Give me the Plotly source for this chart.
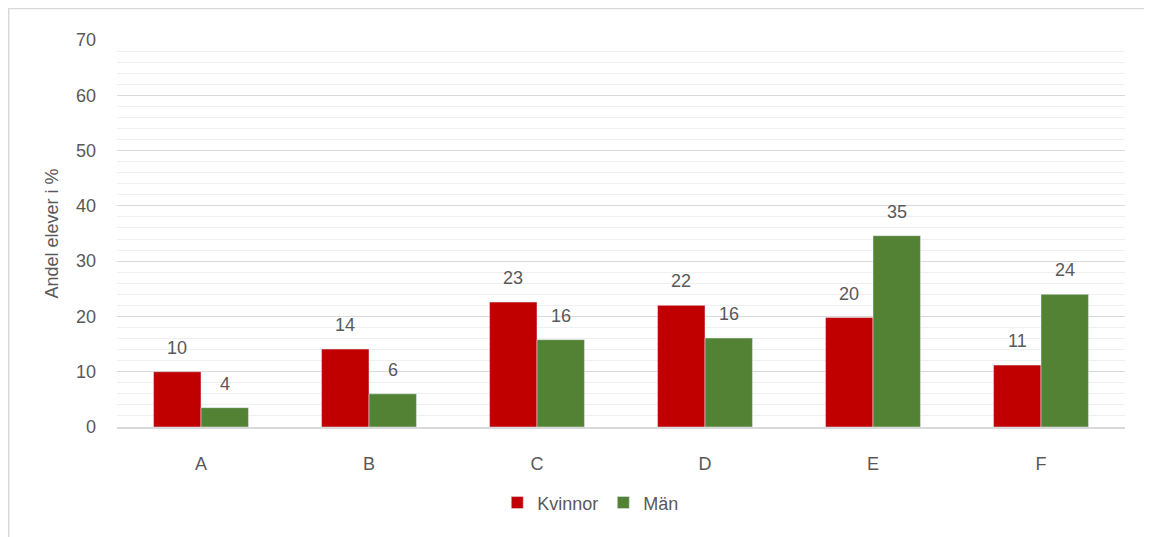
import plotly.graph_objects as go

categories = ["A", "B", "C", "D", "E", "F"]
kvinnor = [10.0, 14.1, 22.6, 22.0, 19.8, 11.2]
man = [3.5, 6.0, 15.8, 16.1, 34.6, 24.0]
kvinnor_labels = ["10", "14", "23", "22", "20", "11"]
man_labels = ["4", "6", "16", "16", "35", "24"]

FONT = "Liberation Sans"
GREY = "#595959"
RED = "#C00000"
GREEN = "#548235"

fig = go.Figure()
fig.add_trace(go.Bar(x=categories, y=kvinnor, name="Kvinnor", marker_color=RED, offsetgroup="k"))
fig.add_trace(go.Bar(x=categories, y=man, name="Män", marker_color=GREEN, offsetgroup="m"))

# data labels above bars, shifted half a bar left/right
for i, cat in enumerate(categories):
    fig.add_annotation(x=cat, y=kvinnor[i], text=kvinnor_labels[i], xshift=-24, yshift=12,
                       yanchor="bottom", showarrow=False, font=dict(size=18, color=GREY, family=FONT))
    fig.add_annotation(x=cat, y=man[i], text=man_labels[i], xshift=24, yshift=12,
                       yanchor="bottom", showarrow=False, font=dict(size=18, color=GREY, family=FONT))

# outer chart border (only top and left edge fall inside the picture)
fig.add_shape(type="rect", xref="paper", yref="paper", x0=-0.1074, x1=1.2, y0=-0.5, y1=1.0814,
              line=dict(color="#d9d9d9", width=1.5), fillcolor="rgba(0,0,0,0)", layer="below")

# page body has an 8px margin, so the figure is sized/offset to compensate
fig.update_layout(
    width=1144, height=529,
    margin=dict(l=109, r=27, t=32, b=110),
    plot_bgcolor="white", paper_bgcolor="white",
    barmode="group", bargap=0.435, bargroupgap=0,
    font=dict(family=FONT, color=GREY, size=18),
    showlegend=True,
    legend=dict(orientation="h", x=0.47, xanchor="center", y=-0.196, yanchor="middle",
                font=dict(size=18, color=GREY, family=FONT), itemwidth=30),
    xaxis=dict(showline=True, linecolor="#d9d9d9", linewidth=1.5, ticks="",
               tickfont=dict(size=18), ticklabelstandoff=20),
    yaxis=dict(range=[0, 70], dtick=10, showgrid=True, gridcolor="#d9d9d9", gridwidth=1.2,
               zeroline=False, ticks="", ticklabelstandoff=20, tickfont=dict(size=18),
               title=dict(text="Andel elever i %", font=dict(size=18), standoff=12),
               minor=dict(dtick=2, showgrid=True, gridcolor="#efefef", gridwidth=1.2)),
)

fig.write_html("out.html")
